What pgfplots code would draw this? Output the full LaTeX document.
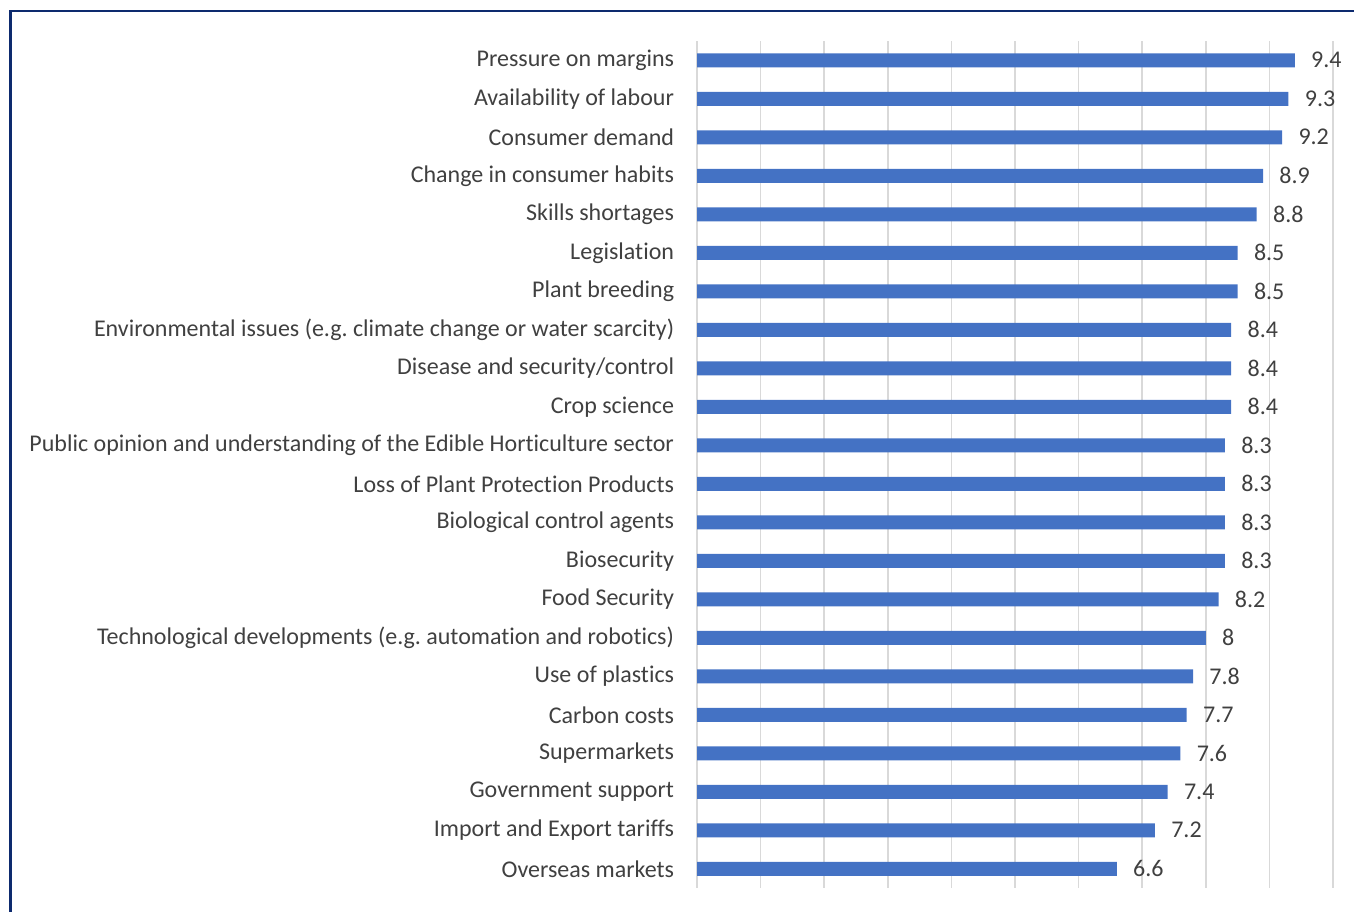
\documentclass[border=0pt]{standalone}
\usepackage{pgfplots}
\pgfplotsset{compat=1.18}
\usepackage{pgfplotstable}
\usepackage{fontspec}
\setmainfont{Carlito}[Ligatures={NoCommon}]
\frenchspacing
\definecolor{barblue}{HTML}{4472C4}
\definecolor{txt}{HTML}{404040}
\definecolor{gridc}{HTML}{D9D9D9}
\definecolor{framec}{HTML}{0D2A6E}
\pgfplotstableread[col sep=comma]{
idx,val
0,9.4
1,9.3
2,9.2
3,8.9
4,8.8
5,8.5
6,8.5
7,8.4
8,8.4
9,8.4
10,8.3
11,8.3
12,8.3
13,8.3
14,8.2
15,8
16,7.8
17,7.7
18,7.6
19,7.4
20,7.2
21,6.6
}\datatable
\begin{document}
\begin{tikzpicture}
\useasboundingbox (0,0) rectangle (677pt,455.5pt);
\draw[framec, line width=1.2pt] (5.3pt,-2pt) -- (5.3pt,450pt) -- (680pt,450pt);
\begin{axis}[
  at={(348.5pt,11.5pt)}, anchor=south west,
  scale only axis, width=318pt, height=423.5pt,
  xbar, bar width=7pt,
  xmin=0, xmax=10, ymin=-0.5, ymax=21.5,
  y dir=reverse,
  xtick={0,1,...,10}, xticklabels={},
  ytick={0,1,...,21},
  yticklabels={Pressure on margins,Availability of labour,Consumer demand,Change in consumer habits,Skills shortages,Legislation,Plant breeding,Environmental issues (e.g. climate change or water scarcity),Disease and security/control,Crop science,Public opinion and understanding of the Edible Horticulture sector,Loss of Plant Protection Products,Biological control agents,Biosecurity,Food Security,Technological developments (e.g. automation and robotics),Use of plastics,Carbon costs,Supermarkets,Government support,Import and Export tariffs,Overseas markets},
  xmajorgrids, major grid style={gridc, line width=0.75pt},
  axis line style={draw=none}, major tick style={draw=none},
  yticklabel style={font=\fontsize{12pt}{14pt}\selectfont, text=txt, inner sep=0pt, xshift=-7pt},
  nodes near coords,
  nodes near coords style={font=\fontsize{12pt}{14pt}\selectfont, text=txt, anchor=west, inner sep=0pt, xshift=8pt, /pgf/number format/assume math mode=true},
]
\addplot[fill=barblue, draw=none] table[x=val, y=idx] {\datatable};
\end{axis}
\end{tikzpicture}
\end{document}
